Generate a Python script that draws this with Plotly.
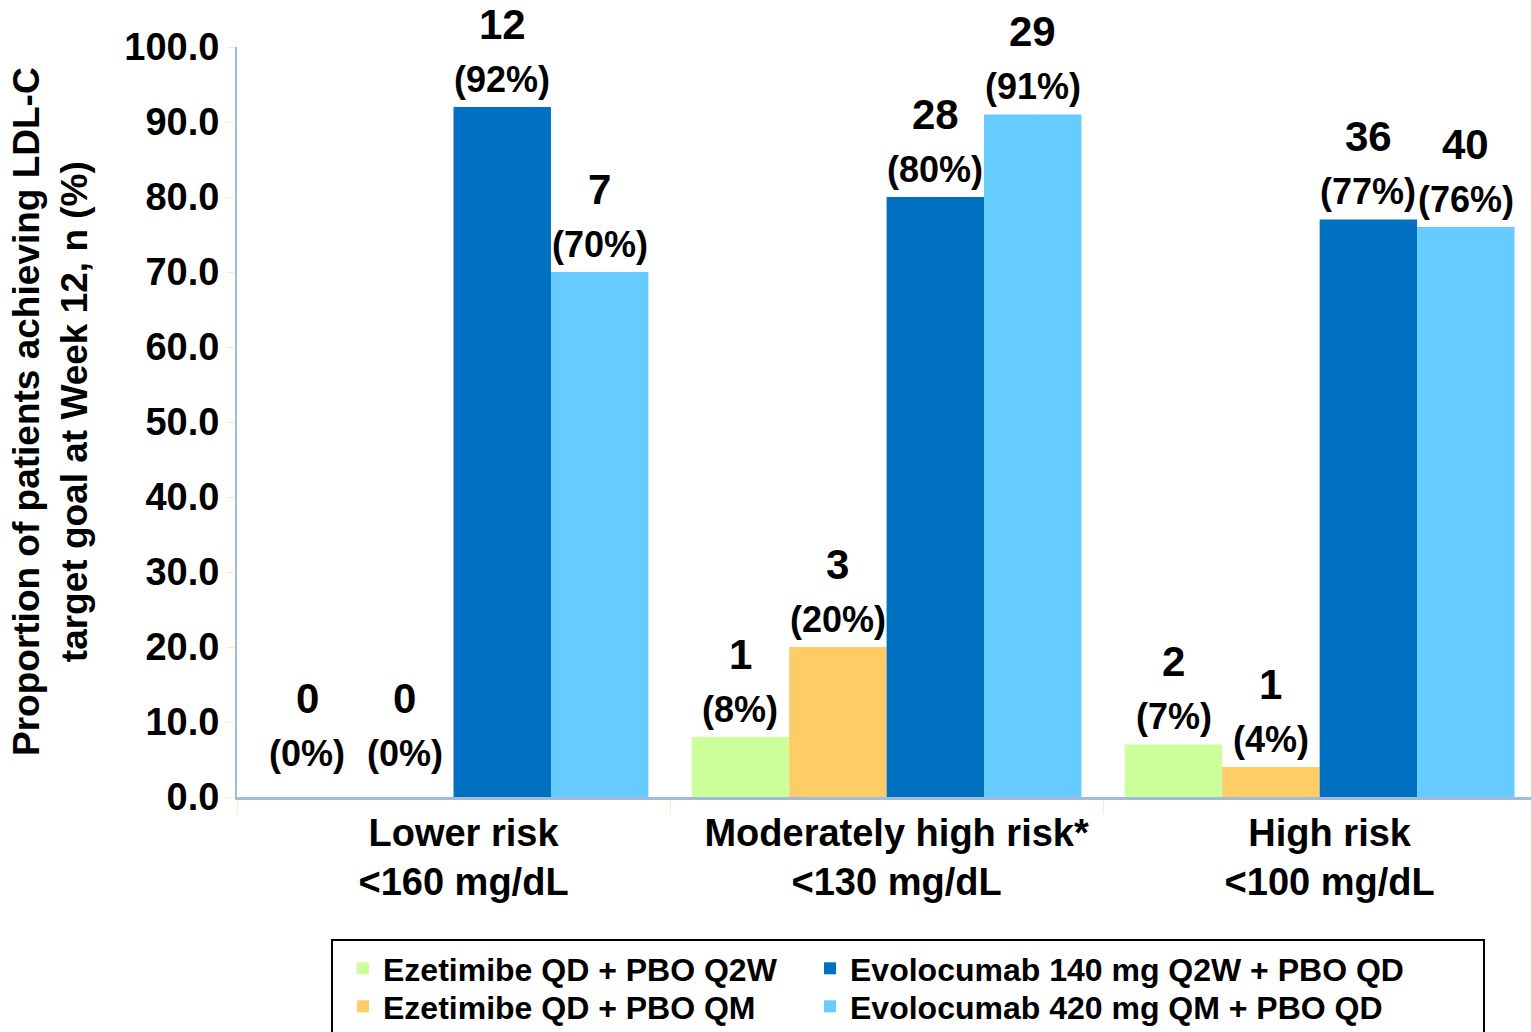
import plotly.graph_objects as go

# Risk categories and their LDL-C targets
categories = [
    "Lower risk<br>&lt;160 mg/dL",
    "Moderately high risk*<br>&lt;130 mg/dL",
    "High risk<br>&lt;100 mg/dL",
]

series_names = [
    "Ezetimibe QD + PBO Q2W",
    "Ezetimibe QD + PBO QM",
    "Evolocumab 140 mg Q2W + PBO QD",
    "Evolocumab 420 mg QM + PBO QD",
]

# Patients reaching target: n and percentage per arm
eze_q2w_n = [0, 1, 2]
eze_q2w_pct = [0, 8, 7]
eze_qm_n = [0, 3, 1]
eze_qm_pct = [0, 20, 4]
evo140_n = [12, 28, 36]
evo140_pct = [92, 80, 77]
evo420_n = [7, 29, 40]
evo420_pct = [70, 91, 76]

y_tick_values = [0, 10, 20, 30, 40, 50, 60, 70, 80, 90, 100]

series_n = [eze_q2w_n, eze_qm_n, evo140_n, evo420_n]
series_pct = [eze_q2w_pct, eze_qm_pct, evo140_pct, evo420_pct]
colors = ["#CCFF99", "#FFCC66", "#0070C0", "#66CCFF"]

FONT = "Liberation Sans, Arial, sans-serif"
BARGAP = 0.1
AXIS_COLOR = "#A3BBDA"
TICK_COLOR = "#F4F0C4"

# Plot-area geometry in pixels
W, H = 1531, 1032
L, T, B = 237, 47, 235
PW, PH = W - L, H - T - B


def px_x(px):
    return (px - L) / PW


def px_y(px):
    return (H - B - px) / PH


# Legend grid: two columns, two rows (left/top pixel of each entry)
legend_ids = ["legend", "legend3", "legend2", "legend4"]
legend_pos = [(343, 941), (343, 979), (810, 941), (810, 979)]

fig = go.Figure()
for name, pct, color, lg in zip(series_names, series_pct, colors, legend_ids):
    fig.add_trace(go.Bar(
        x=categories, y=pct, name=name,
        marker=dict(color=color, line=dict(width=0)),
        legend=lg,
    ))

# Two-line value labels (n above, percentage below) over each bar
n_series = len(series_names)
bar_w = (1 - BARGAP) / n_series
annotations = []
for k, (ns, pcts) in enumerate(zip(series_n, series_pct)):
    for i, (n, p) in enumerate(zip(ns, pcts)):
        xpos = i + (k - (n_series - 1) / 2) * bar_w
        extra = 16 if p == 0 else 0
        annotations.append(dict(
            x=xpos, y=p, xref="x", yref="y", text=f"({p}%)",
            showarrow=False, yanchor="middle", xanchor="center",
            yshift=28 + extra,
            font=dict(family=FONT, size=36, color="black", weight="bold"),
        ))
        annotations.append(dict(
            x=xpos, y=p, xref="x", yref="y", text=f"{n}",
            showarrow=False, yanchor="middle", xanchor="center",
            yshift=83 + extra,
            font=dict(family=FONT, size=42, color="black", weight="bold"),
        ))

# Y-axis title
annotations.append(dict(
    x=0, y=0.5, xref="paper", yref="paper",
    text="Proportion of patients achieving LDL-C<br>target goal at Week 12, n (%)",
    textangle=-90, showarrow=False, xanchor="center", yanchor="middle",
    xshift=-187, yshift=10,
    font=dict(family=FONT, size=37, color="black", weight="bold"),
))

legend_font = dict(family=FONT, size=32, color="black", weight="bold")
legend_layouts = {
    lid: dict(
        orientation="v", x=px_x(lx), y=px_y(ly), xanchor="left", yanchor="top",
        font=legend_font, bgcolor="rgba(0,0,0,0)", borderwidth=0,
        itemclick=False, tracegroupgap=0,
    )
    for lid, (lx, ly) in zip(legend_ids, legend_pos)
}

fig.update_layout(
    annotations=annotations,
    width=W, height=H, autosize=False,
    margin=dict(l=L, r=0, t=T, b=B, autoexpand=False),
    paper_bgcolor="white", plot_bgcolor="white",
    barmode="group", bargap=BARGAP, bargroupgap=0,
    font=dict(family=FONT, color="black"),
    showlegend=True,
    shapes=[dict(
        type="rect", xref="paper", yref="paper",
        x0=px_x(332), x1=px_x(1484), y0=px_y(940), y1=px_y(1050),
        line=dict(color="black", width=2), fillcolor="rgba(0,0,0,0)",
    )],
    xaxis=dict(
        type="category", range=[-0.5, 2.488],
        showline=True, linecolor=AXIS_COLOR, linewidth=3,
        ticks="outside", tickson="boundaries", ticklen=14, tickcolor=TICK_COLOR,
        tickwidth=1, showgrid=False, ticklabelshift=10, ticklabelstandoff=0,
        tickfont=dict(family=FONT, size=38, color="black", weight="bold"),
    ),
    yaxis=dict(
        range=[0, 100], tickvals=y_tick_values, tickformat=".1f",
        showline=True, linecolor=AXIS_COLOR, linewidth=2,
        ticks="outside", ticklen=8, tickcolor=TICK_COLOR, tickwidth=1,
        showgrid=False, zeroline=False,
        tickfont=dict(family=FONT, size=38, color="black", weight="bold"),
    ),
    **legend_layouts,
)

fig.write_html("out.html")
